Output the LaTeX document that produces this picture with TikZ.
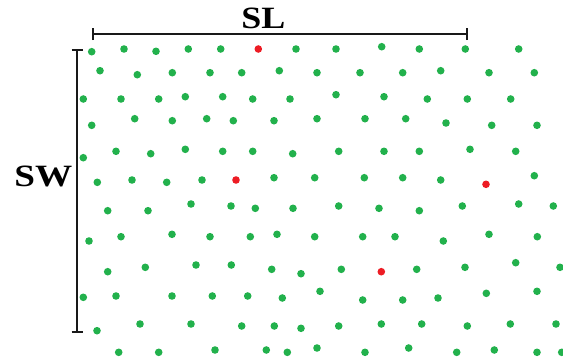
\documentclass[tikz,border=0pt]{standalone}
\usepackage{fontspec}
\setmainfont{Liberation Serif}
\definecolor{dotgreen}{RGB}{34,177,76}
\definecolor{dotred}{RGB}{237,28,36}
\definecolor{barcol}{RGB}{25,25,25}
\tikzset{
  gdot/.style={fill=dotgreen},
  rdot/.style={fill=dotred},
  bar/.style={draw=barcol, line width=2pt},
  lbl/.style={font=\fontsize{31}{31}\selectfont\bfseries, inner sep=0pt, anchor=base}
}
\begin{document}
\begin{tikzpicture}[x=1pt,y=-1pt]
\useasboundingbox (0,0) rectangle (563,362);
% green dots
\foreach \x/\y in {
91.7/51.7,124/49,156/51.3,188.3/49,220.7/49,296/49,336/49,381.7/46.7,419.3/49,465.3/49,518.7/49,
100/70.7,137.3/74.7,172.3/72.7,210/72.7,241.7/72.7,279.3/70.7,317/72.7,360/72.7,402.7/72.7,440.7/70.7,489/72.7,534.3/72.7,
83.3/99,121/99,158.7/99,185.3/96.7,222.7/96.7,252.7/99,290/99,336/94.7,384/96.7,427.3/99,467.3/99,510.7/99,
91.7/125.3,134.7/118.7,172.3/120.7,206.7/118.7,233.3/120.7,274/120.7,317/118.7,365/118.7,405.7/118.7,446/123,491.7/125.3,537/125.3,
83.3/157.7,116/151.3,150.7/153.7,185.3/149.3,222.7/151.3,252.7/151.3,292.7/153.7,338.7/151.3,384/151.3,419.3/151.3,470/149.3,515.7/151.3,
97.3/182.3,132/180,166.7/182.3,202/180,274/177.7,314.7/177.7,364.3/177.7,402.7/177.7,440.7/180,534.3/175.7,
107.7/210.7,148/210.7,191/204,231/206,255.3/208.3,293/208.3,338.7/206,379/208.3,419.3/210.7,462.3/206,518.7/204,553.3/206,
89/241,121/236.7,172/234.3,210/236.7,250.3/236.7,277/234.3,314.7/236.7,362.7/236.7,395/236.7,443.3/241,489/234.3,537.3/236.7,
107.7/271.7,145.3/267.3,196/265,231.3/265,271.7/269.3,301/273.7,341.3/269.3,416.7/269.3,465/267.3,515.7/262.7,560/267.3,
83.3/297.3,116/296,172/296,212.3/296,247.7/296,282.3/298,320/291.3,362.7/300,402.7/300,438/298,486.3/293.3,537/291.3,
97/330.7,140/324,191/324,241.7/326,274.3/326,301/328.3,338.7/326,381.3/324,421.7/324,467.3/326,510.3/324,556/324,
118.7/352.3,158.7/352.3,215/350,266.3/350,287.3/352.3,317/348,365/352.3,408.7/348,456.7/352.3,494.3/350,537/352.3,561.7/352.3}
  \fill[gdot] (\x,\y) circle (3.8);
% red dots
\foreach \x/\y in {258.3/49,236/180,486/184.3,381.3/271.7}
  \fill[rdot] (\x,\y) circle (3.8);
% SL bracket
\coordinate (sl1) at (93,34);
\coordinate (sl2) at (467,34);
\draw[bar] (sl1) -- (sl2);
\draw[bar] ([yshift=-6]sl1) -- ([yshift=6]sl1);
\draw[bar] ([yshift=-6]sl2) -- ([yshift=6]sl2);
\node[lbl] (sl) at (263.3,28.3) {\scalebox{1.16}[1]{SL}};
% SW bracket
\coordinate (sw1) at (77,50);
\coordinate (sw2) at (77,332);
\draw[bar] (sw1) -- (sw2);
\draw[bar] ([xshift=-5.5]sw1) -- ([xshift=5.5]sw1);
\draw[bar] ([xshift=-5.5]sw2) -- ([xshift=5.5]sw2);
\node[lbl] (sw) at (43.3,186) {\scalebox{1.2}[1]{SW}};
\end{tikzpicture}
\end{document}
